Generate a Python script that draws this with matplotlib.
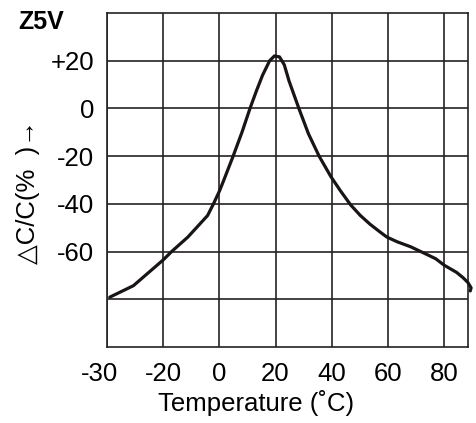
import numpy as np
import matplotlib
matplotlib.use("Agg")
import matplotlib.pyplot as plt
from matplotlib.transforms import ScaledTranslation

plt.rcParams['font.family'] = ['Liberation Sans', 'DejaVu Sans']

# curve: temperature (C) vs capacitance change (%)
temp = [-29.5, -25.3, -20, -17.0, -11.2, -4.2, -2.1, 0, 1.4, 4.9, 8.1,
        10.9, 13.3, 15.4, 17.9, 19.6, 21.4, 23.1, 24.8, 28.3, 31.7, 35.5,
        39.7, 43.2, 46.7, 50.2, 53.7, 57.2, 59.6, 63.3, 68.1, 73.3, 77.0, 80,
        84.4, 86.7, 88.5, 89.6, 89.3]
dcc = [-79.1, -74.3, -63.5, -60, -53.9, -44.9, -40, -34.7, -30.6, -20, -9.8,
       0, 7.7, 14, 20, 22, 21.6, 18.3, 11.5, 0, -10.6, -20,
       -28.6, -34.7, -40.4, -44.9, -48.6, -51.8, -53.9, -55.9, -58, -60.9, -63, -65.7,
       -68.7, -70.9, -73, -75.2, -76.5]

x_ticks = [-30, -20, 0, 20, 40, 60, 80]
y_ticks = [-80, -60, -40, -20, 0, 20]
y_labels = ['', '-60', '-40', '-20', '0', '+20']

# x axis is not linear: every grid column is one step
col_t = np.array([-30, -20, 0, 20, 40, 60, 80, 100], dtype=float)
col_p = np.arange(len(col_t), dtype=float)

def fwd(t):
    return np.interp(t, col_t, col_p)

def inv(p):
    return np.interp(p, col_p, col_t)

fig = plt.figure(figsize=(4.77, 4.23), dpi=100)
ax = fig.add_axes([107/477, 1-347/423, (468-107)/477, (347-13)/423])
ax.set_xscale('function', functions=(fwd, inv))
ax.set_xlim(-30, 88.5)
ax.set_ylim(-100, 40)

ax.plot(temp, dcc, color='#1a1414', linewidth=2.3, solid_joinstyle='round',
        solid_capstyle='round', clip_on=False, zorder=3)

ax.set_xticks(x_ticks)
ax.set_xticklabels([str(t) for t in x_ticks])
ax.set_yticks(y_ticks)
ax.set_yticklabels(y_labels)
ax.tick_params(length=0, labelsize=18.5, pad=9)
ax.tick_params(axis='x', pad=11)
ax.grid(True, color='#222222', linewidth=1.2)
for s in ax.spines.values():
    s.set_linewidth(1.2)
    s.set_color('#222222')

# first x label sits a bit to the left in the original
lab0 = ax.get_xticklabels()[0]
lab0.set_transform(lab0.get_transform() + ScaledTranslation(-7/100, 0, fig.dpi_scale_trans))

fig.text(18/477, 1-22/423, 'Z5V', fontsize=18, fontweight='bold', va='center', ha='left')
fig.text(28/477, 1-192/423, '△C/C(%  )→', rotation=90, fontsize=18.5,
         ha='center', va='center')
fig.text(256/477, 1-403/423, 'Temperature (˚C)', fontsize=18.5, ha='center', va='center')

fig.savefig('out.png', dpi=100)
